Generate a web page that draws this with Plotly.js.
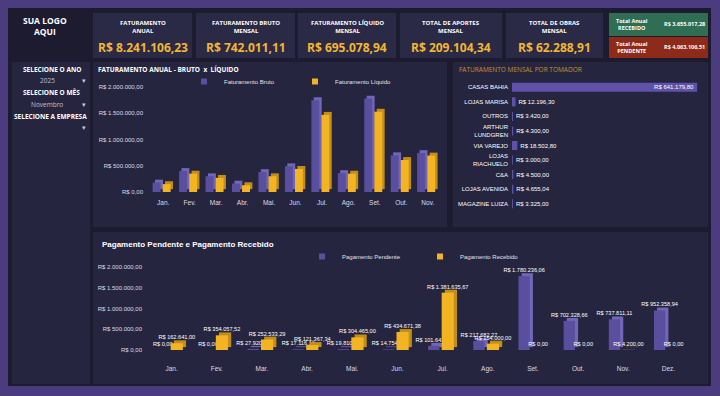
<!DOCTYPE html>
<html><head><meta charset="utf-8">
<script src="https://cdn.plot.ly/plotly-3.0.1.min.js"></script>
<style>html,body{margin:0;padding:0;background:#4B3C80;overflow:hidden}#chart{width:720px;height:396px}</style>
</head><body><div id="chart"></div>
<script>
// ---------- DATA ----------
const meses11 = ['Jan.','Fev.','Mar.','Abr.','Mai.','Jun.','Jul.','Ago.','Set.','Out.','Nov.'];
const fatBruto = [180000,400000,300000,160000,380000,490000,1750000,360000,1780000,700000,742011.11];
const fatLiquido = [150000,350000,270000,130000,300000,440000,1470000,350000,1530000,610000,695078.94];

const tomadores = ['CASAS BAHIA','LOJAS MARISA','OUTROS','ARTHUR<br>LUNDGREN','VIA VAREJO','LOJAS<br>RIACHUELO','C&A','LOJAS AVENIDA','MAGAZINE LUIZA'];
const fatTomador = [641179.80,12196.30,3420.00,4300.00,18502.80,3000.00,4500.00,4655.04,3325.00];

const meses12 = ['Jan.','Fev.','Mar.','Abr.','Mai.','Jun.','Jul.','Ago.','Set.','Out.','Nov.','Dez.'];
const pagPendente = [0,0,27920.00,17116.16,19810.00,14754.94,101641.67,217682.27,1780236.06,702328.66,737811.11,952358.94];
const pagRecebido = [162641.00,354057.52,252533.29,121367.34,304465.00,434671.38,1381635.67,154000.00,0,0,4200.00,0];

const yTickVals = [0,500000,1000000,1500000,2000000];
const yTickText = ['R$ 0,00','R$ 500.000,00','R$ 1.000.000,00','R$ 1.500.000,00','R$ 2.000.000,00'];

const kpiTitulos = ['FATURAMENTO<br>ANUAL','FATURAMENTO BRUTO<br>MENSAL','FATURAMENTO LÍQUIDO<br>MENSAL','TOTAL DE APORTES<br>MENSAL','TOTAL DE OBRAS<br>MENSAL'];
const kpiValores = ['R$ 8.241.106,23','R$ 742.011,11','R$ 695.078,94','R$ 209.104,34','R$ 62.288,91'];
const totalRecebido = 'R$ 3.655.017,28';
const totalPendente = 'R$ 4.063.106,51';
const anoSel = '2025', mesSel = 'Novembro';

// ---------- STYLE ----------
const W = 720, H = 396;
const X = p => p / W, Y = p => 1 - p / H;
const PURPLE = '#5A4E9F', PURPLE_3D = '#7266B6', YELLOW = '#F2B422', YELLOW_3D = '#C38E17', GOLD = '#F2B632';
const PANEL = '#262540', DARK = '#1C1B2F', CARD = '#2A2946';
const FONT = 'Liberation Sans, Arial, sans-serif';
const UI = 'Open Sans, Noto Sans, sans-serif';

const shapes = [];
function rect(x0, y0, x1, y1, color) {
  shapes.push({type:'rect', xref:'paper', yref:'paper', x0:X(x0), x1:X(x1), y0:Y(y1), y1:Y(y0),
    fillcolor:color, line:{width:0}, layer:'below'});
}
rect(8, 8, 711, 386, DARK);
rect(12, 62, 90, 384, PANEL);
rect(93, 62, 447, 227, PANEL);
rect(453, 62, 708, 227, PANEL);
rect(93, 232, 708, 384, PANEL);
const cardX = [[93,192],[196,295],[298,396],[400,502],[506,603]];
cardX.forEach(c => rect(c[0], 13, c[1], 58, CARD));
rect(609, 13, 708, 36, '#2F6E52');
rect(609, 37, 708, 58, '#8E2A1A');

const ann = [];
function txt(x, y, t, size, color, opts) {
  ann.push(Object.assign({xref:'paper', yref:'paper', x:X(x), y:Y(y), text:t, showarrow:false,
    xanchor:'center', yanchor:'middle', font:{size:size, color:color, family:UI}}, opts || {}));
}
txt(45, 26, '<b>SUA LOGO<br>AQUI</b>', 8.5, '#ffffff');
cardX.forEach((c, i) => {
  txt((c[0]+c[1])/2, 27, '<b>' + kpiTitulos[i] + '</b>', 6, '#ffffff');
  txt((c[0]+c[1])/2, 47, '<b>' + kpiValores[i] + '</b>', 12, GOLD);
});
txt(632, 24.5, '<b>Total Anual<br>RECEBIDO</b>', 5.5, '#ffffff');
txt(684, 24.5, '<b>' + totalRecebido + '</b>', 5.5, '#ffffff');
txt(632, 47.5, '<b>Total Anual<br>PENDENTE</b>', 5.5, '#ffffff');
txt(684, 47.5, '<b>' + totalPendente + '</b>', 5.5, '#ffffff');

txt(52, 69, '<b>SELECIONE O ANO</b>', 6.5, '#ffffff');
txt(47, 80.5, anoSel, 6.5, '#c0c0cc');
txt(84, 80.5, '▾', 7, '#c8c8d4');
txt(52, 92.5, '<b>SELECIONE O MÊS</b>', 6.5, '#ffffff');
txt(47, 104, mesSel, 6.5, '#c0c0cc');
txt(84, 104, '▾', 7, '#c8c8d4');
txt(50, 116, '<b>SELECIONE A EMPRESA</b>', 6.5, '#ffffff');
txt(84, 127, '▾', 7, '#c8c8d4');

txt(96, 69, '<b>FATURAMENTO ANUAL - BRUTO  x  LÍQUIDO</b>', 6.5, '#ffffff', {xanchor:'left'});
txt(457, 69, 'FATURAMENTO MENSAL POR TOMADOR', 6.5, '#C98F2E', {xanchor:'left'});
txt(100, 244, '<b>Pagamento Pendente e Pagamento Recebido</b>', 8, '#ffffff', {xanchor:'left', font:{size:8, color:'#ffffff', family:FONT}});

// ---------- TRACES ----------
const tickFont = {size:6, color:'#dcdce6', family:FONT};
const lblFont = {size:5.6, color:'#ffffff', family:FONT};
function bar3d(x, y, color, sideColor, ax, ay, off, wid, dOff, dBase, withText) {
  const back = {type:'bar', x:x, y:y, base:dBase, offset:off + dOff, width:wid, marker:{color:sideColor},
    xaxis:ax, yaxis:ay, showlegend:false, hoverinfo:'skip'};
  const front = {type:'bar', x:x, y:y, offset:off, width:wid, marker:{color:color},
    xaxis:ax, yaxis:ay, showlegend:false, hoverinfo:'skip'};
  if (withText) Object.assign(front, {texttemplate:'R$ %{y:,.2f}', textposition:'outside',
    constraintext:'none', cliponaxis:false, textfont:lblFont});
  return [back, front];
}
function legendItem(name, color, ax, ay, lg) {
  return {type:'scatter', mode:'markers', x:[null], y:[null], name:name, xaxis:ax, yaxis:ay, legend:lg,
    marker:{symbol:'square', size:6, color:color}, hoverinfo:'skip'};
}
const traces = [].concat(
  bar3d(meses11, fatBruto, PURPLE, PURPLE_3D, 'x', 'y', -0.40, 0.30, 0.09, 55000, false),
  bar3d(meses11, fatLiquido, YELLOW, YELLOW_3D, 'x', 'y', -0.02, 0.30, 0.09, 55000, false),
  [{type:'bar', orientation:'h', y:tomadores, x:fatTomador, marker:{color:'#5F51A8'},
   xaxis:'x2', yaxis:'y2', showlegend:false, texttemplate:'R$ %{x:,.2f}', textposition:'auto',
   insidetextanchor:'end', constraintext:'none', cliponaxis:false, width:0.62,
   textfont:{size:6, color:'#ffffff', family:FONT}, hoverinfo:'skip'}],
  bar3d(meses12, pagPendente, PURPLE, PURPLE_3D, 'x3', 'y3', -0.32, 0.25, 0.07, 70000, true),
  bar3d(meses12, pagRecebido, YELLOW, YELLOW_3D, 'x3', 'y3', -0.02, 0.27, 0.07, 70000, true),
  [legendItem('Faturamento Bruto', PURPLE, 'x', 'y', 'legend'),
   legendItem('Faturamento Líquido', YELLOW, 'x', 'y', 'legend'),
   legendItem('Pagamento Pendente', PURPLE, 'x3', 'y3', 'legend2'),
   legendItem('Pagamento Recebido', YELLOW, 'x3', 'y3', 'legend2')]
);

const yMoney = {range:[0,2000000], tickmode:'array', tickvals:yTickVals, ticktext:yTickText,
  showgrid:false, zeroline:false, showline:false, tickfont:tickFont, ticklabelstandoff:6, fixedrange:true};

const layout = {
  width:W, height:H, margin:{l:0, r:0, t:0, b:0},
  paper_bgcolor:'#4B3C80', plot_bgcolor:'rgba(0,0,0,0)',
  separators:',.', showlegend:true, barmode:'overlay',
  font:{family:FONT, color:'#ffffff'},
  xaxis:{domain:[X(150), X(441)], anchor:'y', showgrid:false, zeroline:false, showline:false,
    tickfont:Object.assign({}, tickFont, {size:6.5}), ticklabelstandoff:5, fixedrange:true},
  yaxis:Object.assign({}, yMoney, {domain:[Y(192), Y(87)], anchor:'x'}),
  xaxis2:{domain:[X(512), X(706)], anchor:'y2', range:[0,672000], visible:false, fixedrange:true},
  yaxis2:{domain:[Y(211), Y(80)], anchor:'x2', autorange:'reversed', showgrid:false, zeroline:false,
    showline:false, tickfont:{size:6, color:'#ffffff', family:FONT}, ticklabelstandoff:3, fixedrange:true},
  xaxis3:{domain:[X(149), X(691)], anchor:'y3', showgrid:false, zeroline:false, showline:false,
    tickfont:Object.assign({}, tickFont, {size:6.5}), ticklabelstandoff:13, fixedrange:true},
  yaxis3:Object.assign({}, yMoney, {domain:[Y(350), Y(267)], anchor:'x3'}),
  legend:{x:X(184), y:Y(67), xanchor:'left', yanchor:'top', orientation:'h', bgcolor:'rgba(0,0,0,0)',
    font:{size:6, color:'#e0e0ea', family:FONT}, itemwidth:30, entrywidth:66, entrywidthmode:'pixels'},
  legend2:{x:X(302), y:Y(242), xanchor:'left', yanchor:'top', orientation:'h', bgcolor:'rgba(0,0,0,0)',
    font:{size:6, color:'#e0e0ea', family:FONT}, itemwidth:30, entrywidth:73, entrywidthmode:'pixels'},
  shapes:shapes, annotations:ann
};
Plotly.newPlot('chart', traces, layout, {staticPlot:true, displayModeBar:false});
</script></body></html>
